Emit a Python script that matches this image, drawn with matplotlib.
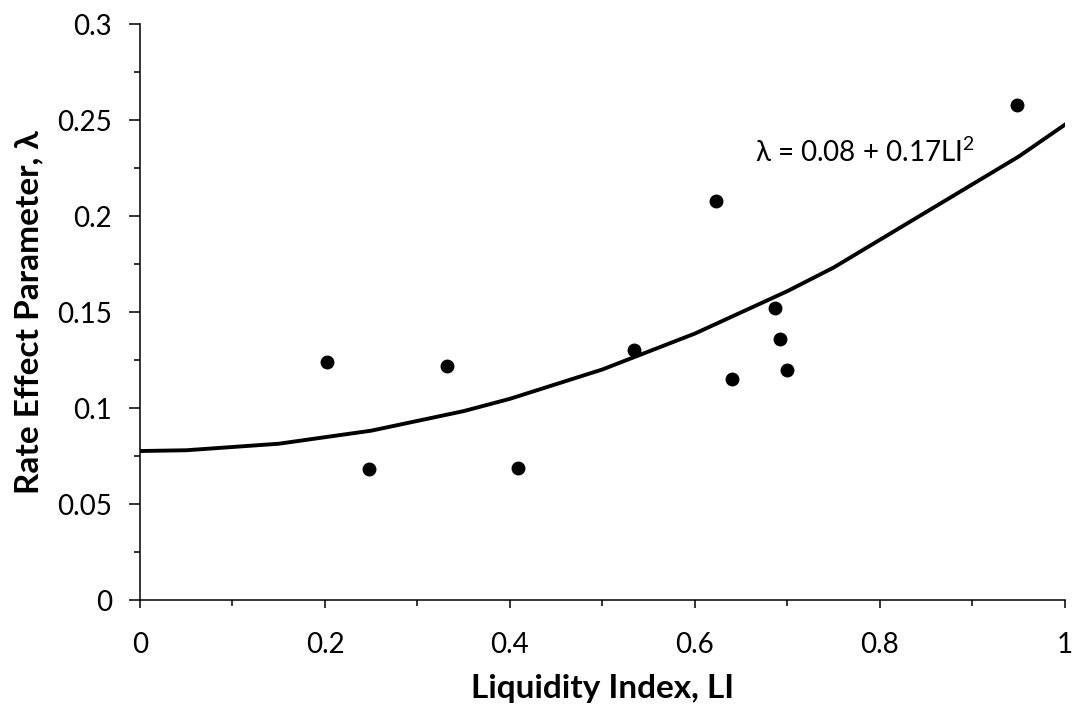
import matplotlib
matplotlib.use("Agg")
import matplotlib.pyplot as plt
from matplotlib.ticker import MultipleLocator, FuncFormatter

plt.rcParams['font.family'] = ['Lato', 'DejaVu Sans']
plt.rcParams['mathtext.fontset'] = 'custom'
plt.rcParams['mathtext.rm'] = 'Lato'
plt.rcParams['mathtext.default'] = 'regular'

# measured points
li = [0.202, 0.248, 0.332, 0.409, 0.534, 0.623, 0.640, 0.686, 0.692, 0.700, 0.948]
lam = [0.124, 0.068, 0.122, 0.069, 0.130, 0.208, 0.115, 0.152, 0.136, 0.120, 0.258]

# fitted curve, lambda = 0.08 + 0.17 LI^2 (values as drawn)
fit_li = [0.0, 0.05, 0.15, 0.25, 0.35, 0.4, 0.5, 0.6, 0.7, 0.75, 0.95, 1.0]
fit_lam = [0.0776, 0.0780, 0.0814, 0.0882, 0.0984, 0.1048, 0.1201, 0.1388, 0.1609, 0.1732, 0.2310, 0.2476]

fig = plt.figure(figsize=(10.75, 7.11), dpi=100)
ax = fig.add_axes([0.1302, 0.1561, 0.8605, 0.8101])

ax.plot(fit_li, fit_lam, color='black', lw=2.8, solid_joinstyle='round', zorder=2)
ax.plot(li, lam, 'o', color='black', ms=9, zorder=3)

ax.text(0.665, 0.228, "λ = 0.08 + 0.17LI$^{2}$", fontsize=20, ha='left', va='baseline')

ax.set_xlim(0, 1)
ax.set_ylim(0, 0.3)
ax.xaxis.set_major_locator(MultipleLocator(0.2))
ax.xaxis.set_minor_locator(MultipleLocator(0.1))
ax.yaxis.set_major_locator(MultipleLocator(0.05))
ax.yaxis.set_minor_locator(MultipleLocator(0.025))
fmt = FuncFormatter(lambda v, p: "{:g}".format(round(v, 3)))
ax.xaxis.set_major_formatter(fmt)
ax.yaxis.set_major_formatter(fmt)

for s in ['top', 'right']:
    ax.spines[s].set_visible(False)
for s in ['left', 'bottom']:
    ax.spines[s].set_linewidth(1.1)

ax.tick_params(which='major', direction='out', width=1.1, labelsize=20)
ax.tick_params(which='minor', direction='out', length=4.5, width=1.1)
ax.tick_params(axis='y', which='major', length=8, pad=12)
ax.tick_params(axis='x', which='major', length=6, pad=17)

ax.set_xlabel("Liquidity Index, LI", fontsize=24, fontweight='bold')
ax.set_ylabel("Rate Effect Parameter, λ", fontsize=24, fontweight='bold')
ax.xaxis.set_label_coords(0.5, -0.128)
ax.yaxis.set_label_coords(-0.105, 0.5)

plt.savefig("out.png", dpi=100)
